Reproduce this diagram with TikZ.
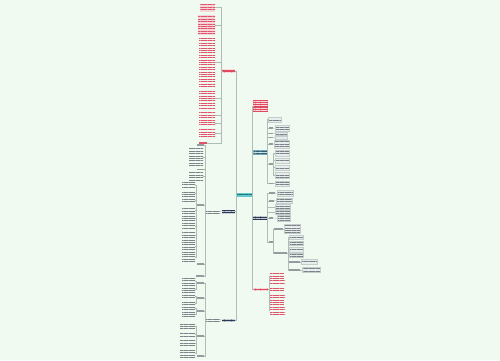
\documentclass[tikz,border=0pt]{standalone}
\usetikzlibrary{fit,patterns.meta}
\definecolor{bg}{RGB}{240,250,241}
\definecolor{teal1}{RGB}{96,202,204}
\definecolor{teal2}{RGB}{30,120,125}
\definecolor{red1}{RGB}{224,74,94}
\definecolor{navy1}{RGB}{40,56,86}
\definecolor{blue1}{RGB}{196,228,234}
\definecolor{blue2}{RGB}{110,170,185}
\definecolor{blue3}{RGB}{60,90,110}
\definecolor{gfill}{RGB}{232,237,237}
\definecolor{gline}{RGB}{196,204,204}
\definecolor{gtext}{RGB}{125,130,136}
\definecolor{pfill}{RGB}{246,214,219}
\definecolor{ptext}{RGB}{222,86,106}
\definecolor{ltext}{RGB}{150,155,160}
\definecolor{cline}{RGB}{175,190,180}
\tikzset{
 base/.style={inner sep=0pt, outer sep=0pt, rectangle},
 stripes/.style={pattern={Lines[angle=0,distance=2.4pt,line width=0.85pt]}, pattern color=#1},
 thinstripes/.style={pattern={Lines[angle=0,distance=2.4pt,line width=0.5pt]}, pattern color=#1},
 cen/.style={base, preaction={fill=teal1}, thinstripes=teal2},
 rednode/.style={base, preaction={fill=red1}, thinstripes=white!80!red1},
 navynode/.style={base, preaction={fill=navy1}, thinstripes=white!75!navy1},
 bluenode/.style={base, preaction={fill=blue1}, draw=blue2, line width=0.3pt, thinstripes=blue3},
 gbox/.style={base, preaction={fill=gfill}, draw=gline, line width=0.3pt, stripes=gtext},
 gtxt/.style={base, stripes=gtext},
 pbox/.style={base, preaction={fill=pfill}, stripes=ptext},
 ptxt/.style={base, stripes=ptext},
 lab/.style={base, fill=ltext},
 plab/.style={base, fill=ptext},
 conn/.style={draw=cline, line width=0.4pt},
}
\newcommand\blk[6]{\node[#6, fit={(#2,#3) (#4,#5)}] (#1) {};}
\newcommand\lc[3]{\draw[conn] (#1.west) -- ++(-#3,0) |- (#2.east);}
\newcommand\rc[3]{\draw[conn] (#1.east) -- ++(#3,0) |- (#2.west);}
\begin{document}
\begin{tikzpicture}[x=1pt,y=-1pt]
\fill[bg] (0,0) rectangle (500,360);
\useasboundingbox (0,0) rectangle (500,360);
% central
\blk{c}{236.5}{193.3}{252}{196.7}{cen}
% main branches
\blk{b1}{222}{69.5}{235}{72.5}{rednode}
\blk{b6}{222}{210}{235}{213}{navynode}
\blk{b6t}{206}{209.8}{220}{213}{gtxt}
\blk{b7}{222}{318.5}{235}{321.5}{navynode}
\blk{b7t}{206}{318.5}{220}{321.7}{gtxt}
\blk{r1}{253.3}{100}{267.7}{112.3}{rednode}
\blk{b3}{253}{150.5}{267}{154}{bluenode}
\blk{b4}{253}{216}{267}{219.5}{navynode}
\blk{b5}{253}{287.5}{268}{291}{rednode}
\lc{c}{b1}{0.5}
\lc{c}{b6}{0.5}
\lc{c}{b7}{0.5}
\rc{c}{r1}{0.5}
\rc{c}{b3}{0.5}
\rc{c}{b4}{0.5}
\rc{c}{b5}{0.5}
\draw[conn] (b6.west) -- (b6t.east);
\draw[conn] (b7.west) -- (b7t.east);
% branch 1 children
\blk{k1}{200}{3.5}{215}{11.5}{pbox}
\blk{k2}{198}{15}{215}{35}{pbox}
\blk{k3}{199}{37.5}{215}{86}{ptxt}
\blk{k4}{199}{89}{215}{108}{ptxt}
\blk{k5}{199}{111}{215}{118.5}{ptxt}
\blk{k6}{199}{120.5}{215}{126.5}{ptxt}
\blk{k7}{199}{128.5}{215}{137}{ptxt}
\blk{k8}{199}{142.3}{207}{143.7}{plab}
\foreach \k in {k1,k2,k3,k4,k5,k6,k7,k8} {\lc{b1}{\k}{0.5}}
% branch 6 children (left)
\blk{a1}{197}{144.3}{204}{145.7}{lab}
\blk{a2}{189}{148}{203}{167}{gtxt}
\blk{a3}{197}{168.5}{204}{169.9}{lab}
\blk{a4}{189}{172}{203}{180}{gtxt}
\blk{a5}{197}{204.3}{204}{205.7}{lab}
\blk{a6}{197}{263.3}{204}{264.7}{lab}
\blk{a7}{196}{275.3}{204}{276.7}{lab}
\foreach \k in {a1,a2,a3,a4,a5,a6,a7} {\lc{b6t}{\k}{1}}
\blk{a51}{182}{182}{195}{188.5}{gtxt}
\blk{a52}{182}{190}{195}{196.5}{gtxt}
\blk{a53}{182}{198}{195}{202.5}{gtxt}
\blk{a54}{182}{207.5}{195}{213}{gtxt}
\blk{a55}{182}{215}{195}{221}{gtxt}
\blk{a56}{182}{223}{195}{229}{gtxt}
\blk{a57}{182}{231}{195}{240}{gtxt}
\blk{a58}{182}{242}{195}{250}{gtxt}
\blk{a59}{182}{252}{195}{262}{gtxt}
\foreach \k in {a51,a52,a53,a54,a55,a56,a57,a58,a59} {\lc{a5}{\k}{1}}
% branch 7 children (left)
\blk{m1}{197}{282.3}{204}{283.7}{lab}
\blk{m2}{197}{297.3}{204}{298.7}{lab}
\blk{m3}{197}{310.3}{204}{311.7}{lab}
\blk{m4}{197}{335.3}{204}{336.7}{lab}
\blk{m5}{197}{355.3}{204}{356.7}{lab}
\foreach \k in {m1,m2,m3,m4,m5} {\lc{b7t}{\k}{1}}
\blk{m11}{182}{278}{195}{285}{gtxt}
\blk{m12}{182}{287}{195}{292}{gtxt}
\lc{m1}{m11}{1}\lc{m1}{m12}{1}
\blk{m21}{182}{293.5}{195}{299.5}{gtxt}
\blk{m22}{182}{301}{195}{305.5}{gtxt}
\lc{m2}{m21}{1}\lc{m2}{m22}{1}
\blk{m31}{182}{307}{195}{310}{gtxt}
\blk{m32}{182}{312}{195}{317}{gtxt}
\lc{m3}{m31}{1}\lc{m3}{m32}{1}
\blk{m41}{180}{322}{195}{330}{gtxt}
\blk{m42}{180}{332}{195}{337}{gtxt}
\blk{m43}{180}{339}{195}{347}{gtxt}
\blk{m44}{180}{349}{195}{357}{gtxt}
\foreach \k in {m41,m42,m43,m44} {\lc{m4}{\k}{1}}
% branch 3 children (right)
\blk{d1}{268}{116.7}{281}{121.7}{gbox}
\blk{d2}{268.5}{127.3}{272.5}{128.7}{lab}
\blk{d3}{268.5}{132.8}{272.5}{134.2}{lab}
\blk{d4}{268.5}{136.8}{272.5}{138.2}{lab}
\blk{d5}{268.5}{143.3}{272.5}{144.7}{lab}
\blk{d6}{268.5}{163.3}{272.5}{164.7}{lab}
\blk{d7}{268.5}{182.8}{272.5}{184.2}{lab}
\foreach \k in {d1,d2,d3,d4,d5,d6,d7} {\rc{b3}{\k}{0.5}}
\blk{d2b}{275}{125.5}{289}{131}{gbox}
\blk{d3b}{275}{131.8}{287}{135}{gbox}
\blk{d4b}{275}{135.8}{287}{139}{gbox}
\blk{d5b}{274}{140.3}{289}{148}{gbox}
\blk{d7b}{275}{181}{289}{186}{gbox}
\draw[conn] (d2.east) -- (d2b.west);
\draw[conn] (d3.east) -- (d3b.west);
\draw[conn] (d4.east) -- (d4b.west);
\draw[conn] (d5.east) -- (d5b.west);
\draw[conn] (d7.east) -- (d7b.west);
\blk{d61}{275}{150}{289}{156}{gbox}
\blk{d62}{275}{158}{289}{163}{gbox}
\blk{d63}{275}{165}{289}{170}{gbox}
\blk{d64}{275}{172}{289}{178}{gbox}
\foreach \k in {d61,d62,d63,d64} {\rc{d6}{\k}{1}}
% branch 4 children (right)
\blk{e1}{268.5}{192.3}{274.5}{193.7}{lab}
\blk{e2}{268.5}{200.3}{273.5}{201.7}{lab}
\blk{e3}{275}{204.5}{290}{209}{gbox}
\blk{e4}{275}{210}{290}{214}{gbox}
\blk{e5}{268.5}{217.3}{273}{218.7}{lab}
\blk{e7}{268.5}{241.3}{272.5}{242.7}{lab}
\foreach \k in {e1,e2,e3,e4,e5,e7} {\rc{b4}{\k}{0.5}}
\blk{e1b}{277}{190.5}{293}{196}{gbox}
\blk{e2b}{276}{198.5}{292}{203}{gbox}
\blk{e5b}{277}{215.5}{290}{221}{gbox}
\draw[conn] (e1.east) -- (e1b.west);
\draw[conn] (e2.east) -- (e2b.west);
\draw[conn] (e5.east) -- (e5b.west);
\blk{f1}{274}{228.3}{283}{229.7}{lab}
\blk{f2}{274}{252.3}{287}{253.7}{lab}
\rc{e7}{f1}{0.8}\rc{e7}{f2}{0.8}
\blk{f1b}{284}{224.5}{300}{233.5}{gbox}
\draw[conn] (f1.east) -- (f1b.west);
\blk{g1}{289}{235}{303}{239.5}{gbox}
\blk{g2}{289}{241}{303}{245.5}{gbox}
\blk{g3}{289}{247}{303}{252}{gbox}
\blk{g4}{289}{253.5}{303}{257.5}{gbox}
\blk{g5}{289}{261.3}{300}{262.7}{lab}
\blk{g6}{289}{269.3}{300}{270.7}{lab}
\foreach \k in {g1,g2,g3,g4,g5,g6} {\rc{f2}{\k}{1}}
\blk{g5b}{301}{259.5}{317}{264.5}{gbox}
\blk{g6b}{302}{267.5}{320}{272.5}{gbox}
\draw[conn] (g5.east) -- (g5b.west);
\draw[conn] (g6.east) -- (g6b.west);
% branch 5 children (red text)
\blk{h1}{270}{273}{284}{278.5}{ptxt}
\blk{h2}{270}{279.5}{285}{284}{ptxt}
\blk{h3}{270}{286}{284}{291}{ptxt}
\blk{h4}{270}{293}{285}{298}{ptxt}
\blk{h5}{270}{299.5}{284}{304.5}{ptxt}
\blk{h6}{270}{306}{285}{314}{ptxt}
\foreach \k in {h1,h2,h3,h4,h5,h6} {\rc{b5}{\k}{1}}
\end{tikzpicture}
\end{document}
